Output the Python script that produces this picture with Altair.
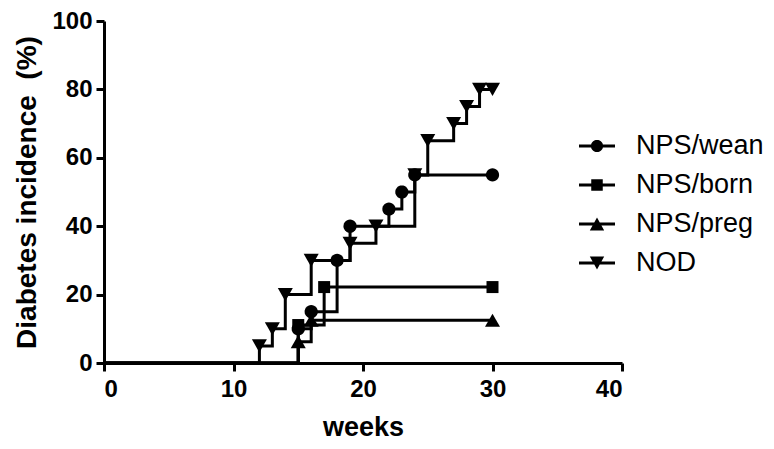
import math
import altair as alt
import pandas as pd

# ---- data ----
groups = ["NPS/wean", "NPS/born", "NPS/preg", "NOD"]
wean_weeks = [15, 16, 18, 19, 22, 23, 24, 30]
wean_pct = [10, 15, 30, 40, 45, 50, 55, 55]
born_weeks = [15, 17, 30]
born_pct = [11.1, 22.2, 22.2]
preg_weeks = [15, 16, 30]
preg_pct = [6.25, 12.5, 12.5]
nod_weeks = [12, 13, 14, 16, 19, 21, 24, 25, 27, 28, 29, 30]
nod_pct = [5, 10, 20, 30, 35, 40, 55, 65, 70, 75, 80, 80]
x_ticks = [0, 10, 20, 30, 40]
y_ticks = [0, 20, 40, 60, 80, 100]

series = {
    "NPS/wean": (wean_weeks, wean_pct),
    "NPS/born": (born_weeks, born_pct),
    "NPS/preg": (preg_weeks, preg_pct),
    "NOD": (nod_weeks, nod_pct),
}

line_rows, point_rows = [], []
for g in groups:
    wk, pc = series[g]
    line_rows.append({"group": g, "week": 0, "pct": 0, "order": 0})
    for i, (w, p) in enumerate(zip(wk, pc)):
        line_rows.append({"group": g, "week": w, "pct": p, "order": i + 1})
        point_rows.append({"group": g, "legend": g, "week": w, "pct": p})
lines_df = pd.DataFrame(line_rows)
points_df = pd.DataFrame(point_rows)


# ---- marker shapes (style only), all drawn clockwise so overlaps stay filled ----
def circle(r, n=28):
    pts = [(r * math.cos(2 * math.pi * k / n), r * math.sin(2 * math.pi * k / n)) for k in range(n)]
    return "M" + "L".join(f"{x:.3f},{y:.3f}" for x, y in pts) + "Z"


def square(h):
    return f"M{-h},{-h}L{h},{-h}L{h},{h}L{-h},{h}Z"


def tri_up(w, h):
    return f"M0,{-h}L{w},{h}L{-w},{h}Z"


def tri_down(w, h):
    return f"M{-w},{-h}L{w},{-h}L0,{h}Z"


plot_shapes = [circle(0.66), square(0.6), tri_up(0.75, 0.66), tri_down(0.75, 0.66)]
bar = "M-1,-0.085L1,-0.085L1,0.085L-1,0.085Z"
legend_shapes = [bar + circle(0.34), bar + square(0.32), bar + tri_up(0.4, 0.36), bar + tri_down(0.4, 0.36)]

FONT = "Liberation Sans"

x_enc = alt.X("week:Q", scale=alt.Scale(domain=[0, 40], nice=False, zero=False),
              axis=alt.Axis(values=x_ticks, title="weeks", titleFontSize=27,
                            labelPadding=6, titlePadding=13))
y_enc = alt.Y("pct:Q", scale=alt.Scale(domain=[0, 100], nice=False),
              axis=alt.Axis(values=y_ticks, title="Diabetes incidence\u00a0 (%)", titleFontSize=28,
                            labelPadding=4, titlePadding=10))

lines = alt.Chart(lines_df).mark_line(interpolate="step-after", color="black", strokeWidth=3).encode(
    x=x_enc, y=y_enc, detail="group:N", order="order:Q"
)

points = alt.Chart(points_df).mark_point(filled=True, color="black", opacity=1, size=400).encode(
    x="week:Q", y="pct:Q",
    shape=alt.Shape("group:N", scale=alt.Scale(domain=groups, range=plot_shapes), legend=None),
)

legend_layer = alt.Chart(points_df).transform_filter(alt.datum.pct < 0).mark_point(
    filled=True, color="black", opacity=1
).encode(
    x="week:Q", y="pct:Q",
    shape=alt.Shape(
        "legend:N",
        scale=alt.Scale(domain=groups, range=legend_shapes),
        legend=alt.Legend(
            title=None, orient="none", legendX=474, legendY=106,
            symbolSize=1296, symbolFillColor="black", symbolOpacity=1,
            labelFont=FONT, labelFontSize=27, labelColor="black", labelOffset=20,
            rowPadding=7, padding=0, labelLimit=300,
        ),
    ),
)

chart = alt.layer(lines, points, legend_layer).resolve_scale(shape="independent").properties(
    width=518, height=342, autosize="none",
    padding={"left": 96, "top": 13, "right": 144, "bottom": 78},
).configure_view(stroke=None).configure_axis(
    grid=False, domainColor="black", domainWidth=3, tickColor="black", tickWidth=3, tickSize=8,
    labelFont=FONT, labelFontSize=24, labelFontWeight="bold", labelColor="black",
    titleFont=FONT, titleFontWeight="bold", titleColor="black",
)

chart.save("out.html", embed_options={"renderer": "svg", "actions": False})
